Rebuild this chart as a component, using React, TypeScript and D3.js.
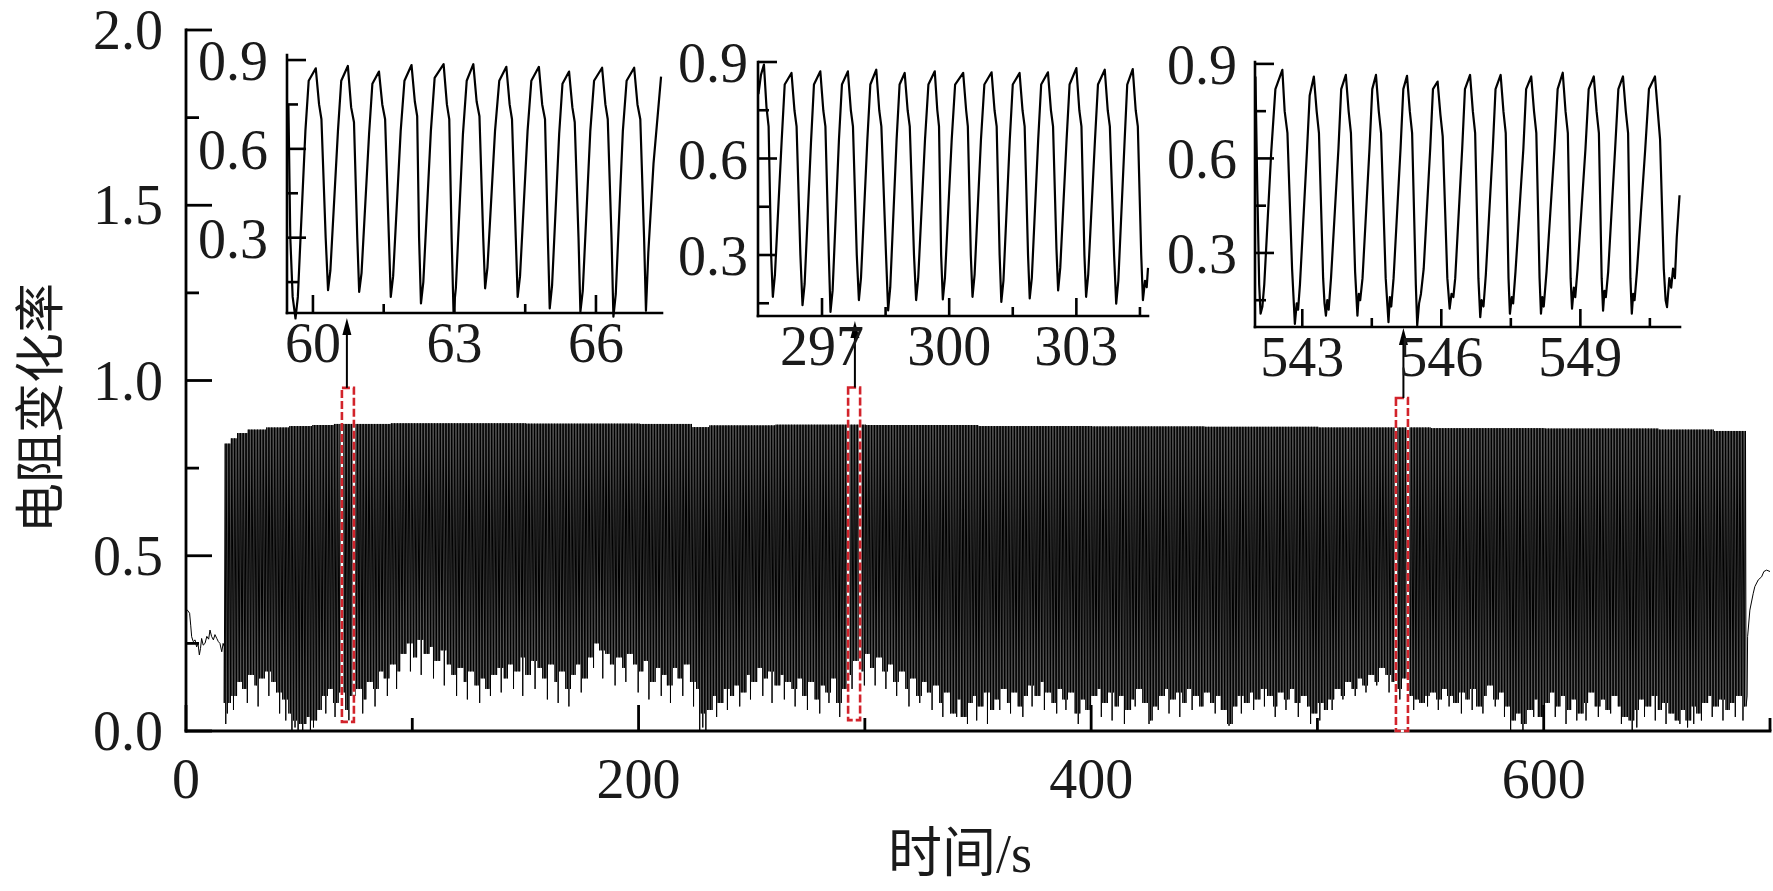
import React from 'react';
import * as d3 from 'd3';

// ---------- main chart data ----------
const xMajorTicks = [0, 200, 400, 600];
const xMinorTicks = [100, 300, 500, 700];
const yMajorTicks = [0, 0.5, 1.0, 1.5, 2.0];
const yMinorTicks = [0.25, 0.75, 1.25, 1.75];
const yTickLabels = ['0.0', '0.5', '1.0', '1.5', '2.0'];

// quiet segment before loading starts
const preT = [0, 0.6, 1.6, 2.1, 2.5, 3.2, 4.0, 4.7, 5.3, 5.9, 6.4, 6.9, 7.6, 8.4, 9.2, 10.0, 10.6, 11.3, 12.1, 12.8, 13.6, 14.3, 15.0, 15.8, 16.4, 16.9];
const preV = [0.345, 0.345, 0.336, 0.30, 0.269, 0.255, 0.26, 0.24, 0.25, 0.217, 0.235, 0.264, 0.245, 0.25, 0.27, 0.262, 0.288, 0.27, 0.26, 0.275, 0.264, 0.255, 0.25, 0.226, 0.25, 0.24];

// cyclic loading: period
const cycleStart = 16.9;
const cycleEnd = 689.8;
const cyclePeriod = 0.68;
const riseTime = 0.43;

// trough level of the cycles, one value per 2.5 s starting at 17.5 s
const lowStart = 17.5;
const lowStep = 2.5;
const envLow = [0.08, 0.10, 0.14, 0.12, 0.16, 0.13, 0.15, 0.17, 0.14, 0.11, 0.09, 0.05, 0.03, 0.02, 0.04, 0.03, 0.06, 0.10, 0.12, 0.08, 0.11, 0.06, 0.10, 0.12, 0.09, 0.14, 0.12, 0.17, 0.15, 0.19, 0.17, 0.22, 0.25, 0.21, 0.26, 0.22, 0.24, 0.20, 0.23, 0.19, 0.16, 0.18, 0.14, 0.17, 0.13, 0.15, 0.12, 0.16, 0.18, 0.15, 0.19, 0.17, 0.21, 0.16, 0.20, 0.18, 0.15, 0.19, 0.14, 0.17, 0.12, 0.16, 0.19, 0.15, 0.21, 0.25, 0.23, 0.22, 0.19, 0.21, 0.18, 0.22, 0.19, 0.17, 0.20, 0.14, 0.18, 0.16, 0.13, 0.18, 0.15, 0.19, 0.14, 0.12, 0.05, 0.06, 0.10, 0.08, 0.12, 0.10, 0.13, 0.11, 0.16, 0.14, 0.18, 0.15, 0.17, 0.13, 0.16, 0.14, 0.12, 0.15, 0.10, 0.14, 0.09, 0.13, 0.11, 0.15, 0.08, 0.12, 0.16, 0.20, 0.17, 0.22, 0.18, 0.21, 0.17, 0.19, 0.14, 0.17, 0.12, 0.15, 0.10, 0.14, 0.11, 0.13, 0.08, 0.11, 0.05, 0.09, 0.04, 0.08, 0.10, 0.07, 0.11, 0.06, 0.09, 0.12, 0.08, 0.11, 0.07, 0.10, 0.13, 0.10, 0.14, 0.11, 0.08, 0.12, 0.09, 0.11, 0.05, 0.09, 0.06, 0.10, 0.12, 0.08, 0.11, 0.07, 0.10, 0.06, 0.09, 0.12, 0.08, 0.03, 0.07, 0.10, 0.12, 0.09, 0.11, 0.08, 0.12, 0.10, 0.07, 0.11, 0.08, 0.10, 0.06, 0.02, 0.07, 0.10, 0.08, 0.11, 0.09, 0.12, 0.10, 0.07, 0.11, 0.09, 0.12, 0.08, 0.10, 0.07, 0.05, 0.08, 0.06, 0.09, 0.12, 0.10, 0.14, 0.12, 0.15, 0.13, 0.16, 0.14, 0.18, 0.16, 0.14, 0.12, 0.15, 0.10, 0.09, 0.08, 0.10, 0.11, 0.09, 0.12, 0.10, 0.08, 0.11, 0.09, 0.12, 0.07, 0.10, 0.13, 0.09, 0.11, 0.07, 0.03, 0.05, 0.02, 0.06, 0.09, 0.04, 0.08, 0.11, 0.07, 0.10, 0.06, 0.09, 0.05, 0.08, 0.11, 0.07, 0.09, 0.06, 0.10, 0.07, 0.04, 0.03, 0.06, 0.09, 0.07, 0.10, 0.06, 0.08, 0.05, 0.03, 0.06, 0.03, 0.07, 0.05, 0.08, 0.10, 0.07, 0.09, 0.06, 0.08, 0.10, 0.07];

// peak level of the cycles (step values)
const highT = [0, 19, 22, 27, 35, 45, 55, 65, 90, 150, 200, 223, 231, 260, 300, 350, 400, 450, 500, 550, 600, 650, 675];
const highV = [0.82, 0.835, 0.85, 0.86, 0.866, 0.87, 0.873, 0.876, 0.878, 0.877, 0.876, 0.867, 0.872, 0.874, 0.873, 0.870, 0.869, 0.868, 0.866, 0.864, 0.863, 0.860, 0.856];

// individual deep troughs
const dipT = [17.3, 18.2, 21.3, 26.8, 31.9, 36.4, 41.7, 44.2, 46.9, 48.0, 49.6, 51.3, 53.1, 54.7, 56.3, 57.6, 61.8, 66.1, 71.9, 78.4, 83.6, 88.9, 93.1, 99.4, 104.2, 109.7, 114.3, 119.8, 124.1, 129.5, 134.3, 139.6, 144.8, 149.1, 154.4, 159.7, 164.2, 169.3, 174.6, 179.9, 184.1, 189.6, 194.2, 199.5, 204.3, 209.7, 214.2, 219.4, 224.1, 227.2, 228.1, 229.5, 234.6, 239.3, 244.5, 249.2, 254.8, 259.3, 264.6, 269.1, 274.4, 279.8, 284.3, 289.1, 294.4, 299.6, 304.3, 309.5, 314.2, 319.6, 324.1, 329.4, 334.7, 340.5, 345.2, 349.1, 354.3, 359.5, 364.2, 369.6, 374.1, 379.4, 384.7, 389.2, 394.4, 399.6, 404.2, 409.5, 414.8, 419.3, 425.5, 429.6, 434.2, 439.4, 444.8, 449.3, 454.6, 461.0, 466.2, 471.5, 476.3, 481.6, 486.2, 491.4, 496.7, 501.3, 506.5, 511.2, 516.4, 521.7, 526.3, 531.4, 536.6, 542.3, 548.6, 553.2, 558.5, 563.3, 568.7, 573.4, 578.6, 582.4, 585.3, 590.9, 595.6, 600.6, 605.3, 609.6, 614.4, 618.9, 624.3, 629.7, 634.2, 639.0, 641.3, 644.3, 649.6, 654.2, 660.0, 663.5, 666.0, 669.4, 674.6, 679.3, 684.5, 688.2];
const dipV = [0.02, 0.05, 0.06, 0.08, 0.07, 0.10, 0.05, 0.03, 0.0, 0.01, 0.0, 0.0, 0.02, 0.0, 0.01, 0.03, 0.05, 0.04, 0.03, 0.05, 0.07, 0.10, 0.12, 0.17, 0.16, 0.15, 0.13, 0.10, 0.09, 0.08, 0.10, 0.11, 0.12, 0.10, 0.12, 0.09, 0.08, 0.07, 0.11, 0.18, 0.15, 0.13, 0.14, 0.11, 0.09, 0.10, 0.08, 0.10, 0.07, 0.0, 0.01, 0.0, 0.04, 0.06, 0.07, 0.09, 0.10, 0.08, 0.09, 0.07, 0.06, 0.05, 0.08, 0.04, 0.12, 0.13, 0.13, 0.12, 0.10, 0.07, 0.08, 0.06, 0.04, 0.04, 0.02, 0.03, 0.02, 0.06, 0.05, 0.04, 0.07, 0.06, 0.05, 0.06, 0.02, 0.05, 0.04, 0.03, 0.02, 0.07, 0.02, 0.06, 0.05, 0.04, 0.06, 0.07, 0.05, 0.015, 0.05, 0.06, 0.07, 0.04, 0.06, 0.04, 0.02, 0.03, 0.06, 0.09, 0.10, 0.11, 0.13, 0.11, 0.09, 0.06, 0.07, 0.06, 0.07, 0.05, 0.06, 0.05, 0.07, 0.04, 0.0, 0.0, 0.04, 0.03, 0.04, 0.02, 0.03, 0.03, 0.04, 0.05, 0.02, 0.0, 0.01, 0.04, 0.03, 0.02, 0.02, 0.01, 0.02, 0.03, 0.04, 0.03, 0.04, 0.03];

// unloading tail
const postT = [689.9, 690.1, 691.1, 692.6, 693.3, 694.8, 696.3, 697.3, 698.5, 700];
const postV = [0.10, 0.269, 0.345, 0.393, 0.412, 0.431, 0.44, 0.455, 0.459, 0.455];

// ---------- inset data ----------
const insetYMajor = [0.3, 0.6, 0.9];
const insetYMinor = [0.15, 0.45, 0.75];
const insetYLabels = ['0.3', '0.6', '0.9'];

const inset1XMajor = [60, 63, 66];
const inset1XMinor = [61.5, 64.5];
const inset2XMajor = [297, 300, 303];
const inset2XMinor = [298.5, 301.5, 304.5];
const inset3XMajor = [543, 546, 549];
const inset3XMinor = [544.5, 547.5, 550.5];

const inset1Pts: [number, number][] = [
  [59.48, 0.75], [59.52, 0.30], [59.57, 0.10], [59.63, 0.027],
  [59.68, 0.10], [59.84, 0.66], [59.91, 0.83], [60.06, 0.872],
  [60.13, 0.75], [60.18, 0.70], [60.27, 0.30], [60.32, 0.123],
  [60.37, 0.19], [60.53, 0.66], [60.60, 0.83], [60.74, 0.880],
  [60.81, 0.74], [60.87, 0.69], [60.94, 0.30], [60.98, 0.117],
  [61.03, 0.18], [61.19, 0.65], [61.26, 0.82], [61.40, 0.861],
  [61.47, 0.75], [61.53, 0.70], [61.61, 0.30], [61.65, 0.100],
  [61.70, 0.17], [61.86, 0.66], [61.94, 0.83], [62.09, 0.883],
  [62.16, 0.76], [62.21, 0.71], [62.25, 0.30], [62.29, 0.078],
  [62.34, 0.15], [62.50, 0.66], [62.58, 0.84], [62.77, 0.886],
  [62.84, 0.75], [62.89, 0.70], [62.94, 0.30], [62.98, 0.050],
  [63.03, 0.13], [63.18, 0.65], [63.26, 0.83], [63.40, 0.886],
  [63.47, 0.76], [63.53, 0.71], [63.61, 0.30], [63.65, 0.129],
  [63.70, 0.20], [63.86, 0.66], [63.95, 0.83], [64.10, 0.877],
  [64.17, 0.75], [64.22, 0.70], [64.30, 0.30], [64.34, 0.100],
  [64.39, 0.17], [64.55, 0.66], [64.63, 0.83], [64.79, 0.877],
  [64.86, 0.75], [64.92, 0.70], [64.98, 0.30], [65.02, 0.061],
  [65.07, 0.14], [65.22, 0.65], [65.29, 0.82], [65.43, 0.861],
  [65.50, 0.74], [65.55, 0.69], [65.63, 0.30], [65.67, 0.050],
  [65.72, 0.12], [65.88, 0.66], [65.96, 0.83], [66.13, 0.874],
  [66.20, 0.75], [66.25, 0.70], [66.33, 0.30], [66.37, 0.033],
  [66.42, 0.11], [66.57, 0.66], [66.65, 0.83], [66.81, 0.874],
  [66.88, 0.75], [66.94, 0.70], [67.02, 0.30], [67.06, 0.053],
  [67.11, 0.25], [67.22, 0.55], [67.38, 0.844],
];

const inset2Pts: [number, number][] = [
  [295.50, 0.80], [295.56, 0.86], [295.63, 0.892],
  [295.69, 0.76], [295.74, 0.70], [295.80, 0.30], [295.84, 0.170],
  [295.89, 0.24], [296.05, 0.66], [296.12, 0.83], [296.28, 0.866],
  [296.35, 0.75], [296.40, 0.70], [296.49, 0.30], [296.54, 0.144],
  [296.59, 0.21], [296.74, 0.65], [296.81, 0.83], [296.96, 0.871],
  [297.03, 0.75], [297.08, 0.70], [297.16, 0.30], [297.20, 0.123],
  [297.25, 0.19], [297.40, 0.66], [297.47, 0.83], [297.61, 0.871],
  [297.68, 0.75], [297.73, 0.70], [297.82, 0.30], [297.87, 0.160],
  [297.92, 0.23], [298.07, 0.66], [298.14, 0.83], [298.28, 0.876],
  [298.35, 0.75], [298.40, 0.70], [298.51, 0.30], [298.56, 0.128],
  [298.61, 0.20], [298.76, 0.66], [298.83, 0.83], [298.95, 0.866],
  [299.02, 0.75], [299.07, 0.70], [299.17, 0.30], [299.22, 0.160],
  [299.27, 0.23], [299.43, 0.66], [299.51, 0.83], [299.66, 0.871],
  [299.72, 0.75], [299.76, 0.70], [299.81, 0.30], [299.85, 0.162],
  [299.90, 0.23], [300.06, 0.66], [300.14, 0.83], [300.33, 0.866],
  [300.40, 0.75], [300.44, 0.70], [300.51, 0.30], [300.55, 0.170],
  [300.60, 0.24], [300.75, 0.66], [300.83, 0.83], [301.00, 0.868],
  [301.07, 0.75], [301.12, 0.70], [301.19, 0.30], [301.23, 0.154],
  [301.28, 0.22], [301.43, 0.66], [301.50, 0.83], [301.66, 0.866],
  [301.73, 0.75], [301.78, 0.70], [301.86, 0.30], [301.90, 0.165],
  [301.95, 0.23], [302.10, 0.66], [302.17, 0.83], [302.33, 0.868],
  [302.40, 0.75], [302.45, 0.70], [302.53, 0.32], [302.57, 0.190],
  [302.62, 0.26], [302.77, 0.66], [302.84, 0.83], [303.00, 0.881],
  [303.07, 0.75], [303.12, 0.70], [303.19, 0.30], [303.23, 0.170],
  [303.28, 0.24], [303.44, 0.66], [303.51, 0.83], [303.67, 0.876],
  [303.74, 0.75], [303.79, 0.70], [303.89, 0.30], [303.94, 0.149],
  [303.99, 0.22], [304.14, 0.66], [304.20, 0.83], [304.33, 0.878],
  [304.40, 0.75], [304.45, 0.70], [304.53, 0.30], [304.57, 0.160],
  [304.62, 0.22], [304.66, 0.20], [304.69, 0.26],
];

const inset3Pts: [number, number][] = [
  [541.99, 0.86], [542.03, 0.50], [542.07, 0.20], [542.10, 0.107],
  [542.14, 0.13], [542.18, 0.20], [542.33, 0.62], [542.42, 0.82], [542.57, 0.881],
  [542.62, 0.75], [542.68, 0.68], [542.78, 0.25], [542.84, 0.075], [542.88, 0.14], [542.91, 0.12], [542.95, 0.20], [543.10, 0.62], [543.16, 0.80], [543.25, 0.860],
  [543.31, 0.75], [543.36, 0.68], [543.45, 0.22], [543.48, 0.14], [543.51, 0.101], [543.54, 0.15], [543.57, 0.12], [543.62, 0.22], [543.78, 0.63], [543.84, 0.82], [543.94, 0.865],
  [544.00, 0.75], [544.05, 0.68], [544.14, 0.24], [544.19, 0.101], [544.22, 0.17], [544.25, 0.15], [544.30, 0.22], [544.45, 0.63], [544.51, 0.82], [544.59, 0.865],
  [544.65, 0.75], [544.70, 0.68], [544.80, 0.22], [544.83, 0.15], [544.86, 0.080], [544.89, 0.16], [544.92, 0.13], [544.97, 0.22], [545.12, 0.63], [545.18, 0.82], [545.26, 0.862],
  [545.32, 0.75], [545.37, 0.68], [545.45, 0.20], [545.48, 0.070], [545.52, 0.14], [545.56, 0.17], [545.62, 0.25], [545.76, 0.63], [545.82, 0.82], [545.92, 0.844],
  [545.98, 0.74], [546.03, 0.67], [546.13, 0.22], [546.18, 0.123], [546.22, 0.17], [546.26, 0.16], [546.30, 0.22], [546.45, 0.63], [546.51, 0.82], [546.62, 0.865],
  [546.68, 0.75], [546.73, 0.68], [546.80, 0.22], [546.84, 0.096], [546.87, 0.15], [546.91, 0.13], [546.96, 0.23], [547.11, 0.63], [547.17, 0.82], [547.28, 0.865],
  [547.34, 0.75], [547.39, 0.68], [547.45, 0.22], [547.48, 0.107], [547.52, 0.16], [547.55, 0.14], [547.60, 0.24], [547.77, 0.63], [547.83, 0.82], [547.94, 0.860],
  [548.00, 0.75], [548.05, 0.68], [548.12, 0.22], [548.15, 0.107], [548.18, 0.16], [548.21, 0.13], [548.27, 0.24], [548.44, 0.63], [548.51, 0.82], [548.62, 0.872],
  [548.68, 0.75], [548.73, 0.68], [548.79, 0.22], [548.82, 0.123], [548.86, 0.19], [548.89, 0.16], [548.94, 0.25], [549.11, 0.63], [549.18, 0.82], [549.29, 0.860],
  [549.35, 0.75], [549.40, 0.68], [549.46, 0.22], [549.49, 0.117], [549.52, 0.18], [549.55, 0.16], [549.60, 0.24], [549.75, 0.63], [549.82, 0.82], [549.92, 0.860],
  [549.98, 0.75], [550.03, 0.68], [550.08, 0.22], [550.11, 0.107], [550.14, 0.17], [550.17, 0.15], [550.22, 0.24], [550.40, 0.63], [550.48, 0.82], [550.61, 0.860],
  [550.67, 0.75], [550.72, 0.66], [550.80, 0.25], [550.84, 0.15], [550.87, 0.128], [550.92, 0.22], [550.96, 0.19], [551.00, 0.25], [551.04, 0.22], [551.08, 0.35], [551.14, 0.483],
];

// zoom windows marked on the main trace (time range, value range), and arrow time
const markT0 = [68.9, 292.6, 534.7];
const markT1 = [74.2, 297.9, 540.0];
const markV0 = [0.026, 0.031, 0.0];
const markV1 = [0.979, 0.98, 0.95];
const arrowT = [71.1, 295.6, 538.0];

// ---------- layout ----------
const W = 1773;
const H = 891;
const M = { left: 186, right: 1770, top: 30, bottom: 731 };
const SERIF = "'Times New Roman', 'Liberation Serif', 'DejaVu Serif', serif";
const CJK = "'Noto Sans CJK SC', 'Noto Sans CJK JP', sans-serif";
const FS = 56;

type Frame = {
  left: number; right: number; top: number; bottom: number;
  xDomain: [number, number]; yDomain: [number, number]; labelGap: number;
};
const frames: Frame[] = [
  { left: 287, right: 662, top: 55, bottom: 313, xDomain: [59.45, 67.4], yDomain: [0.0456, 0.917], labelGap: 19 },
  { left: 758, right: 1148, top: 62, bottom: 316, xDomain: [295.49, 304.69], yDomain: [0.1104, 0.9], labelGap: 10 },
  { left: 1255, right: 1680, top: 62, bottom: 327, xDomain: [541.98, 551.15], yDomain: [0.065, 0.906], labelGap: 18 },
];
const insetPts = [inset1Pts, inset2Pts, inset3Pts];
const insetXMajor = [inset1XMajor, inset2XMajor, inset3XMajor];
const insetXMinor = [inset1XMinor, inset2XMinor, inset3XMinor];

function Inset({ f, pts, xMajor, xMinor }: { f: Frame; pts: [number, number][]; xMajor: number[]; xMinor: number[] }) {
  const xs = d3.scaleLinear().domain(f.xDomain).range([f.left, f.right]);
  const ys = d3.scaleLinear().domain(f.yDomain).range([f.bottom, f.top]);
  const line = d3.line<[number, number]>().x(d => xs(d[0])).y(d => ys(d[1]));
  const aw = 2.6;
  return (
    <g>
      <path d={line(pts) || ''} fill="none" stroke="#000" strokeWidth={2.2} strokeLinejoin="round" />
      <line x1={f.left} x2={f.left} y1={f.bottom} y2={f.top} stroke="#000" strokeWidth={aw} strokeLinecap="square" />
      <line x1={f.left} x2={f.right} y1={f.bottom} y2={f.bottom} stroke="#000" strokeWidth={aw} strokeLinecap="square" />
      {xMajor.map(t => (
        <line key={'xM' + t} x1={xs(t)} x2={xs(t)} y1={f.bottom} y2={f.bottom - 18} stroke="#000" strokeWidth={aw} />
      ))}
      {xMinor.map(t => (
        <line key={'xm' + t} x1={xs(t)} x2={xs(t)} y1={f.bottom} y2={f.bottom - 9} stroke="#000" strokeWidth={aw} />
      ))}
      {insetYMajor.map(v => (
        <line key={'yM' + v} x1={f.left} x2={f.left + 19} y1={ys(v)} y2={ys(v)} stroke="#000" strokeWidth={aw} />
      ))}
      {insetYMinor.map(v => (
        <line key={'ym' + v} x1={f.left} x2={f.left + 11} y1={ys(v)} y2={ys(v)} stroke="#000" strokeWidth={aw} />
      ))}
      {xMajor.map(t => (
        <text key={'xl' + t} x={xs(t)} y={f.bottom + 49} textAnchor="middle" fontFamily={SERIF} fontSize={FS} fill="#1a1a1a">{t}</text>
      ))}
      {insetYMajor.map((v, i) => (
        <text key={'yl' + v} x={f.left - f.labelGap} y={ys(v) + 20} textAnchor="end" fontFamily={SERIF} fontSize={FS} fill="#1a1a1a">{insetYLabels[i]}</text>
      ))}
    </g>
  );
}

export default function App() {
  const x = d3.scaleLinear().domain([0, 700]).range([M.left, M.right]);
  const y = d3.scaleLinear().domain([0, 2]).range([M.bottom, M.top]);

  const pts: [number, number][] = [];
  preT.forEach((t, i) => pts.push([t, preV[i]]));
  for (let k = 0; ; k++) {
    const tT = cycleStart + k * cyclePeriod;
    if (tT > cycleEnd) break;
    const bi = Math.max(0, Math.min(envLow.length - 1, Math.floor((tT - lowStart) / lowStep)));
    let lo = envLow[bi];
    dipT.forEach((d, j) => { if (Math.abs(d - tT) < cyclePeriod / 2) lo = Math.min(lo, dipV[j]); });
    const hi = highV[Math.max(0, d3.bisectRight(highT, tT) - 1)];
    pts.push([tT, lo]);
    if (tT + riseTime < cycleEnd) pts.push([tT + riseTime, hi]);
  }
  postT.forEach((t, i) => pts.push([t, postV[i]]));
  const line = d3.line<[number, number]>().x(d => x(d[0])).y(d => y(d[1]));

  const aw = 2.8;
  const red = '#d2232b';

  return (
    <svg width={W} height={H} viewBox={`0 0 ${W} ${H}`} style={{ position: 'absolute', left: 0, top: 0, background: '#fff' }}>
      <rect x={0} y={0} width={W} height={H} fill="#fff" />
      {/* main trace */}
      <path d={line(pts) || ''} fill="none" stroke="#000" strokeWidth={1.0} />

      {/* main axes */}
      <line x1={M.left} x2={M.left} y1={M.bottom} y2={M.top} stroke="#000" strokeWidth={aw} strokeLinecap="square" />
      <line x1={M.left} x2={M.right} y1={M.bottom} y2={M.bottom} stroke="#000" strokeWidth={aw} strokeLinecap="square" />
      {xMajorTicks.map(t => (
        <line key={'mx' + t} x1={x(t)} x2={x(t)} y1={M.bottom} y2={M.bottom - 26} stroke="#000" strokeWidth={aw} />
      ))}
      {xMinorTicks.map(t => (
        <line key={'mxm' + t} x1={x(t)} x2={x(t)} y1={M.bottom} y2={M.bottom - 13} stroke="#000" strokeWidth={aw} />
      ))}
      {yMajorTicks.map(v => (
        <line key={'my' + v} x1={M.left} x2={M.left + 26} y1={y(v)} y2={y(v)} stroke="#000" strokeWidth={aw} />
      ))}
      {yMinorTicks.map(v => (
        <line key={'mym' + v} x1={M.left} x2={M.left + 13} y1={y(v)} y2={y(v)} stroke="#000" strokeWidth={aw} />
      ))}
      {xMajorTicks.map(t => (
        <text key={'lx' + t} x={x(t)} y={M.bottom + 67} textAnchor="middle" fontFamily={SERIF} fontSize={FS} fill="#1a1a1a">{t}</text>
      ))}
      {yMajorTicks.map((v, i) => (
        <text key={'ly' + v} x={M.left - 23} y={y(v) + 19} textAnchor="end" fontFamily={SERIF} fontSize={FS} fill="#1a1a1a">{yTickLabels[i]}</text>
      ))}

      {/* axis titles */}
      <text x={960} y={872} textAnchor="middle" fontSize={54} fill="#1a1a1a">
        <tspan fontFamily={CJK}>时间</tspan><tspan fontFamily={SERIF}>/s</tspan>
      </text>
      <text transform={`translate(36, 408) rotate(-90)`} textAnchor="middle" dominantBaseline="central" fontFamily={CJK} fontSize={50} fill="#1a1a1a">电阻变化率</text>

      {/* zoom windows */}
      {markT0.map((t0, i) => {
        const rx = x(t0), rw = x(markT1[i]) - x(t0);
        const ry = y(markV1[i]), rh = y(markV0[i]) - y(markV1[i]);
        return (
          <g key={'mk' + i}>
            <rect x={rx} y={ry} width={rw} height={rh} fill="none" stroke="#fff" strokeWidth={2.6} />
            <rect x={rx} y={ry} width={rw} height={rh} fill="none" stroke={red} strokeWidth={2.6} strokeDasharray="8 3" />
          </g>
        );
      })}

      {/* arrows */}
      {arrowT.map((t, i) => {
        const ax = x(t);
        const y0 = y(markV1[i]);
        const tip = frames[i].bottom + (i === 2 ? 1 : 5);
        return (
          <g key={'ar' + i}>
            <line x1={ax} x2={ax} y1={y0} y2={tip + 12} stroke="#000" strokeWidth={2} />
            <path d={`M${ax},${tip} L${ax - 4.5},${tip + 17} L${ax + 4.5},${tip + 17} Z`} fill="#000" />
          </g>
        );
      })}

      {/* insets */}
      {frames.map((f, i) => (
        <Inset key={'in' + i} f={f} pts={insetPts[i]} xMajor={insetXMajor[i]} xMinor={insetXMinor[i]} />
      ))}
    </svg>
  );
}
